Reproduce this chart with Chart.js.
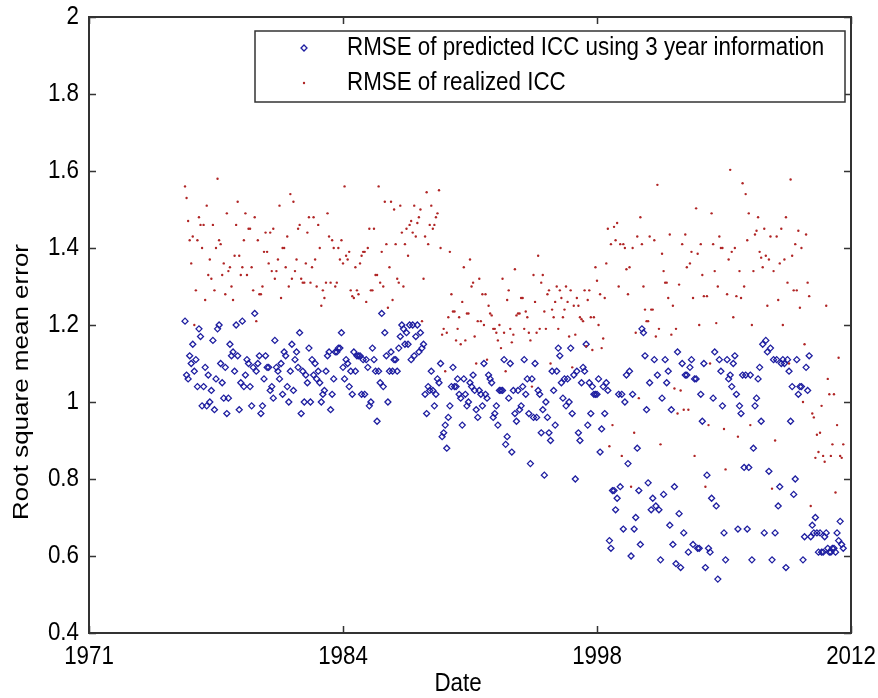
<!DOCTYPE html>
<html>
<head>
<meta charset="utf-8">
<title>RMSE of ICC</title>
<script src="https://cdn.jsdelivr.net/npm/chart.js@4.4.1/dist/chart.umd.min.js"></script>
<style>
  html, body { margin: 0; padding: 0; background: #fff; }
  canvas { display: block; }
</style>
</head>
<body>
<canvas id="chart" width="878" height="698"></canvas>
<script>
// Monthly observations, first one is March 1976, last one August 2011
const startYear = 1976;
const startMonth = 3;

// RMSE of predicted ICC using 3 year information (one line per year)
const predictedRmse = [
  1.21, 1.07, 1.06, 1.12, 1.10, 1.15, 1.08, 1.11, 1.04, 1.19,            // 1976
  1.17, 0.99, 1.04, 1.09, 0.99, 1.07, 1.00, 1.03, 1.16, 0.98, 1.06, 1.19, // 1977
  1.20, 1.10, 1.05, 1.01, 1.09, 0.97, 1.01, 1.15, 1.12, 1.13, 1.08, 1.20, // 1978
  1.12, 0.98, 1.05, 1.21, 1.04, 1.07, 1.11, 1.10, 1.04, 0.99, 1.09, 1.23, // 1979
  1.08, 1.10, 1.12, 0.97, 0.99, 1.06, 1.12, 1.09, 1.09, 1.03, 1.04, 1.01, // 1980
  1.16, 1.09, 1.08, 1.06, 1.10, 1.02, 1.13, 1.12, 1.04, 1.00, 1.08, 1.15, // 1981
  1.03, 1.11, 1.13, 1.09, 1.18, 0.97, 1.08, 1.00, 1.07, 1.05, 1.14, 1.00, // 1982
  1.11, 1.07, 1.10, 1.06, 1.08, 1.05, 1.00, 1.02, 1.03, 1.08, 1.12, 1.13, // 1983
  0.98, 1.02, 1.06, 1.13, 1.13, 1.14, 1.14, 1.18, 1.09, 1.06, 1.11, 1.10, // 1984
  1.04, 1.08, 1.02, 1.13, 1.08, 1.12, 1.12, 1.12, 1.02, 1.11, 1.02, 1.11, // 1985
  1.09, 0.99, 1.00, 1.14, 1.11, 1.08, 0.95, 1.08, 1.05, 1.23, 1.04, 1.18, // 1986
  1.12, 1.00, 1.08, 1.13, 1.08, 1.11, 1.11, 1.08, 1.14, 1.17, 1.20, 1.19, // 1987
  1.15, 1.18, 1.15, 1.20, 1.11, 1.20, 1.12, 1.17, 1.20, 1.13, 1.18, 1.14, // 1988
  1.15, 1.02, 0.97, 1.04, 1.03, 1.08, 1.03, 0.99, 1.02, 1.06, 1.05, 1.10, // 1989
  0.91, 0.92, 0.94, 0.88, 0.96, 0.99, 1.04, 1.09, 1.04, 1.04, 1.06, 1.02, // 1990
  1.01, 0.94, 1.06, 1.02, 0.99, 1.00, 1.05, 1.04, 1.07, 1.03, 0.98, 0.96, // 1991
  1.03, 1.02, 0.99, 1.10, 1.02, 1.01, 1.07, 1.06, 1.05, 0.96, 0.97, 0.99, // 1992
  0.94, 1.03, 1.03, 1.03, 1.11, 0.89, 0.91, 1.01, 1.10, 0.87, 1.03, 0.97, // 1993
  0.95, 1.03, 0.98, 0.99, 1.04, 1.11, 1.02, 1.06, 0.97, 0.84, 1.06, 0.96, // 1994
  1.10, 0.96, 1.03, 1.02, 0.92, 0.98, 0.81, 1.00, 0.96, 0.92, 0.90, 1.08, // 1995
  1.03, 0.94, 1.08, 1.14, 1.12, 1.05, 1.01, 1.06, 0.99, 1.06, 1.00, 1.14, // 1996
  0.97, 1.07, 0.80, 1.08, 0.92, 0.90, 1.05, 1.09, 1.08, 1.15, 0.94, 1.05, // 1997
  0.97, 1.04, 1.02, 1.02, 1.02, 1.06, 0.87, 0.93, 1.04, 0.97, 1.05, 1.03, // 1998
  0.64, 0.62, 0.77, 0.77, 0.72, 0.75, 1.02, 0.78, 1.02, 0.67, 1.00, 1.07, // 1999
  0.84, 1.08, 0.60, 1.02, 0.67, 0.70, 0.88, 0.77, 0.63, 1.19, 1.18, 1.12, // 2000
  0.98, 0.79, 1.05, 0.72, 0.75, 1.11, 0.73, 1.07, 0.72, 0.59, 1.01, 0.76, // 2001
  1.11, 1.05, 1.08, 0.68, 0.98, 0.63, 0.78, 0.58, 1.13, 0.71, 0.57, 1.10, // 2002
  0.66, 1.07, 1.07, 0.61, 1.09, 1.11, 0.63, 1.06, 1.06, 0.62, 0.62, 1.02, // 2003
  0.95, 1.10, 0.57, 0.81, 0.62, 0.61, 0.75, 1.01, 1.13, 0.73, 0.54, 1.11, // 2004
  1.08, 0.99, 0.66, 0.59, 1.11, 1.06, 1.07, 1.04, 1.10, 1.12, 1.02, 0.67, // 2005
  0.99, 0.97, 1.07, 0.83, 1.07, 0.67, 0.83, 1.07, 0.59, 0.88, 0.99, 1.01, // 2006
  1.06, 1.09, 0.95, 1.15, 0.66, 1.16, 1.13, 0.82, 1.14, 0.59, 1.11, 0.66, // 2007
  1.11, 0.73, 0.78, 1.10, 1.11, 1.10, 0.57, 1.11, 1.08, 0.95, 1.04, 0.76, // 2008
  0.80, 1.11, 1.02, 1.04, 1.04, 0.59, 0.65, 1.09, 1.03, 1.12, 0.65, 0.68, // 2009
  0.66, 0.70, 0.66, 0.61, 0.66, 0.61, 0.61, 0.65, 0.66, 0.62, 0.61, 0.61, // 2010
  0.62, 0.62, 0.61, 0.66, 0.64, 0.69, 0.63, 0.62                          // 2011
];

// RMSE of realized ICC
const realizedRmse = [
  1.56, 1.53, 1.47, 1.42, 1.36, 1.43, 1.20, 1.29, 1.42, 1.48,                  // 1976
  1.46, 1.40, 1.46, 1.265, 1.51, 1.33, 1.37, 1.32, 1.46, 1.29, 1.40, 1.58,     // 1977
  1.42, 1.41, 1.33, 1.36, 1.28, 1.49, 1.34, 1.35, 1.30, 1.265, 1.38, 1.46,     // 1978
  1.52, 1.38, 1.33, 1.35, 1.42, 1.49, 1.33, 1.45, 1.45, 1.35, 1.29, 1.48,      // 1979
  1.21, 1.42, 1.28, 1.28, 1.30, 1.39, 1.44, 1.39, 1.36, 1.44, 1.34, 1.45,      // 1980
  1.32, 1.34, 1.37, 1.51, 1.27, 1.40, 1.40, 1.35, 1.43, 1.30, 1.54, 1.32,      // 1981
  1.52, 1.34, 1.37, 1.45, 1.46, 1.32, 1.31, 1.31, 1.36, 1.44, 1.48, 1.31,      // 1982
  1.35, 1.48, 1.37, 1.30, 1.46, 1.40, 1.25, 1.29, 1.27, 1.31, 1.49, 1.43,      // 1983
  1.31, 1.42, 1.40, 1.30, 1.31, 1.40, 1.37, 1.42, 1.36, 1.56, 1.38, 1.37,      // 1984
  1.39, 1.29, 1.275, 1.27, 1.35, 1.29, 1.28, 1.36, 1.38, 1.39, 1.39, 1.26,     // 1985
  1.40, 1.45, 1.29, 1.29, 1.45, 1.33, 1.33, 1.56, 1.31, 1.39, 1.30, 1.52,      // 1986
  1.41, 1.245, 1.35, 1.52, 1.265, 1.50, 1.41, 1.32, 1.31, 1.51, 1.44, 1.30,    // 1987
  1.41, 1.45, 1.38, 1.46, 1.47, 1.44, 1.51, 1.43, 1.465, 1.48, 1.50, 1.21,     // 1988
  1.32, 1.43, 1.545, 1.41, 1.46, 1.51, 1.45, 1.46, 1.48, 1.49, 1.55, 1.40,     // 1989
  1.175, 1.19, 1.08, 1.18, 1.22, 1.39, 1.28, 1.235, 1.235, 1.16, 1.19, 1.22,   // 1990
  1.15, 1.26, 1.35, 1.16, 1.23, 1.23, 1.37, 1.30, 1.31, 1.17, 1.10, 1.21,      // 1991
  1.32, 1.21, 1.28, 1.20, 1.28, 1.11, 1.25, 1.23, 1.225, 1.19, 1.19, 1.18,     // 1992
  1.16, 1.20, 1.14, 1.32, 1.18, 1.08, 1.265, 1.29, 1.19, 1.155, 1.175, 1.345,  // 1993
  1.225, 1.23, 1.23, 1.27, 1.27, 1.19, 1.235, 1.22, 1.18, 1.16, 1.04, 1.33,    // 1994
  1.26, 1.18, 1.38, 1.19, 1.31, 1.33, 1.235, 1.19, 1.28, 1.29, 1.10, 1.24,     // 1995
  1.22, 1.26, 1.30, 1.19, 1.29, 1.27, 1.22, 1.24, 1.30, 1.26, 1.17, 1.29,      // 1996
  1.09, 1.25, 1.175, 1.27, 1.25, 1.22, 1.215, 1.21, 1.29, 1.145, 1.265, 1.29,  // 1997
  1.22, 1.135, 1.22, 1.35, 1.315, 1.20, 1.28, 1.14, 1.165, 1.27, 1.36, 1.45,   // 1998
  0.885, 1.41, 0.94, 1.455, 1.42, 1.465, 1.30, 1.41, 0.86, 1.41, 1.40, 1.345,  // 1999
  1.28, 1.35, 0.78, 1.40, 0.92, 1.18, 1.43, 1.01, 1.48, 1.41, 1.30, 1.24,      // 2000
  1.21, 1.21, 1.43, 1.24, 1.24, 1.42, 1.17, 1.564, 1.19, 0.89, 1.385, 1.34,    // 2001
  1.31, 1.31, 1.27, 1.435, 1.175, 1.25, 1.035, 1.19, 0.97, 1.305, 1.03, 1.41,  // 2002
  0.98, 1.435, 1.35, 0.98, 1.36, 1.39, 1.27, 0.86, 1.503, 1.385, 1.20, 1.41,   // 2003
  1.33, 1.275, 0.78, 1.275, 0.94, 1.10, 1.49, 1.41, 1.34, 1.205, 1.30, 1.43,   // 2004
  1.40, 1.40, 0.93, 0.825, 1.28, 1.37, 1.603, 1.39, 1.22, 1.40, 1.275, 0.91,   // 2005
  1.34, 1.27, 1.568, 1.30, 1.54, 1.42, 1.49, 0.94, 1.20, 1.34, 1.435, 1.445,   // 2006
  1.48, 1.39, 1.375, 1.35, 1.45, 1.38, 1.25, 1.37, 1.43, 0.775, 1.34, 0.90,    // 2007
  1.43, 1.265, 1.36, 1.45, 1.20, 1.37, 1.48, 1.31, 1.10, 1.578, 1.38, 1.29,    // 2008
  1.41, 1.29, 1.445, 1.245, 1.40, 1.00, 1.15, 1.435, 1.31, 1.275, 0.73, 0.97,  // 2009
  0.96, 0.855, 0.915, 0.87, 0.92, 0.99, 0.86, 0.845, 1.25, 1.06, 1.02, 0.86,   // 2010
  0.89, 1.02, 0.765, 0.94, 1.115, 0.86, 0.855, 0.89                            // 2011
];

// axis limits and ticks (MATLAB datetick: evenly spaced ticks, year labels)
const xMin = 1971;
const xMax = 2012;
const xTickLabels = ['1971', '1984', '1998', '2012'];
const yTicks = [0.4, 0.6, 0.8, 1.0, 1.2, 1.4, 1.6, 1.8, 2.0];

const seriesNames = ['RMSE of predicted ICC using 3 year information', 'RMSE of realized ICC'];
const xTitle = 'Date';
const yTitle = 'Root square mean error';

// the figure was squeezed sideways, so squeeze Liberation Sans along the page x direction
const FONT = "26px 'Liberation Sans', Arial, sans-serif";
const SQUEEZE = 0.86;
const BLUE = '#1e1ea0';
const RED = '#b02525';
const AXIS = '#333';

function toPoints(values) {
    return values.map((v, i) => ({ x: startYear + (startMonth - 1 + i) / 12, y: v }));
}

function xTickValue(i) {
    return xMin + i * (xMax - xMin) / (xTickLabels.length - 1);
}

function squeezedText(ctx, text, x, y, align, rotation) {
    ctx.save();
    ctx.translate(x, y);
    ctx.scale(SQUEEZE, 1);          // page-x squeeze, applied before any rotation
    if (rotation) ctx.rotate(rotation);
    ctx.textAlign = align;
    ctx.fillText(text, 0, 0);
    ctx.restore();
}

// white page behind the canvas
const whiteBackground = {
    id: 'whiteBackground',
    beforeDraw(chart) {
        const ctx = chart.ctx;
        ctx.save();
        ctx.fillStyle = '#fff';
        ctx.fillRect(0, 0, chart.width, chart.height);
        ctx.restore();
    }
};

// box round the axes with inward ticks on all four sides, plus labels
const matlabAxes = {
    id: 'matlabAxes',
    afterDatasetsDraw(chart) {
        const { ctx, chartArea: a, scales } = chart;
        const len = 7;
        ctx.save();
        ctx.strokeStyle = AXIS;
        ctx.lineWidth = 2;
        ctx.strokeRect(a.left, a.top, a.right - a.left, a.bottom - a.top);
        ctx.lineWidth = 1.5;
        ctx.beginPath();
        xTickLabels.forEach((t, i) => {
            const px = Math.round(scales.x.getPixelForValue(xTickValue(i))) + 0.5;
            ctx.moveTo(px, a.bottom); ctx.lineTo(px, a.bottom - len);
            ctx.moveTo(px, a.top); ctx.lineTo(px, a.top + len);
        });
        yTicks.forEach(v => {
            const py = Math.round(scales.y.getPixelForValue(v)) + 0.5;
            ctx.moveTo(a.left, py); ctx.lineTo(a.left + len, py);
            ctx.moveTo(a.right, py); ctx.lineTo(a.right - len, py);
        });
        ctx.stroke();

        ctx.fillStyle = '#000';
        ctx.font = FONT;
        ctx.textBaseline = 'alphabetic';
        xTickLabels.forEach((t, i) => {
            squeezedText(ctx, t, scales.x.getPixelForValue(xTickValue(i)), a.bottom + 31, 'center');
        });
        ctx.textBaseline = 'middle';
        yTicks.forEach(v => {
            squeezedText(ctx, String(+v.toFixed(1)), a.left - 10, scales.y.getPixelForValue(v), 'right');
        });
        ctx.textBaseline = 'alphabetic';
        squeezedText(ctx, xTitle, 458, a.bottom + 58, 'center');
        ctx.textBaseline = 'middle';
        squeezedText(ctx, yTitle, 22, 382, 'center', -Math.PI / 2);
        ctx.restore();
    }
};

// boxed legend in the upper right corner of the axes
const boxedLegend = {
    id: 'boxedLegend',
    afterDraw(chart) {
        const { ctx, chartArea: a } = chart;
        const w = 590, h = 71;
        const left = a.right - 6 - w, top = a.top + 14;
        ctx.save();
        ctx.fillStyle = '#fff';
        ctx.fillRect(left, top, w, h);
        ctx.strokeStyle = AXIS;
        ctx.lineWidth = 1.5;
        ctx.strokeRect(left, top, w, h);

        const rows = [top + 17, top + 52];
        const mx = left + 49;
        // predicted: diamond
        ctx.strokeStyle = BLUE;
        ctx.lineWidth = 1.3;
        ctx.beginPath();
        ctx.moveTo(mx, rows[0] - 3); ctx.lineTo(mx + 3, rows[0]);
        ctx.lineTo(mx, rows[0] + 3); ctx.lineTo(mx - 3, rows[0]);
        ctx.closePath();
        ctx.stroke();
        // realized: dot
        ctx.fillStyle = RED;
        ctx.beginPath();
        ctx.arc(mx, rows[1], 1.2, 0, Math.PI * 2);
        ctx.fill();

        ctx.fillStyle = '#000';
        ctx.font = FONT;
        ctx.textBaseline = 'middle';
        seriesNames.forEach((name, i) => squeezedText(ctx, name, left + 92, rows[i], 'left'));
        ctx.restore();
    }
};

new Chart(document.getElementById('chart'), {
    type: 'scatter',
    data: {
        datasets: [
            {
                label: seriesNames[0],
                data: toPoints(predictedRmse),
                pointStyle: 'rectRot',
                pointRadius: 3,
                pointBorderWidth: 1.3,
                borderColor: BLUE,
                backgroundColor: 'rgba(255,255,255,0)',
                order: 1
            },
            {
                label: seriesNames[1],
                data: toPoints(realizedRmse),
                pointStyle: 'circle',
                pointRadius: 1.2,
                pointBorderWidth: 0,
                borderColor: RED,
                backgroundColor: RED,
                order: 0
            }
        ]
    },
    options: {
        responsive: false,
        animation: false,
        devicePixelRatio: 1,
        layout: { padding: { top: 17, right: 27, left: 0, bottom: 0 } },
        plugins: {
            legend: { display: false },
            tooltip: { enabled: false }
        },
        scales: {
            x: {
                type: 'linear',
                min: xMin,
                max: xMax,
                afterFit: scale => { scale.height = 65; },
                grid: { display: false, drawTicks: false },
                border: { display: false },
                ticks: { display: false }
            },
            y: {
                type: 'linear',
                min: 0.4,
                max: 2,
                afterFit: scale => { scale.width = 89; },
                grid: { display: false, drawTicks: false },
                border: { display: false },
                ticks: { display: false }
            }
        }
    },
    plugins: [whiteBackground, matlabAxes, boxedLegend]
});
</script>
</body>
</html>
